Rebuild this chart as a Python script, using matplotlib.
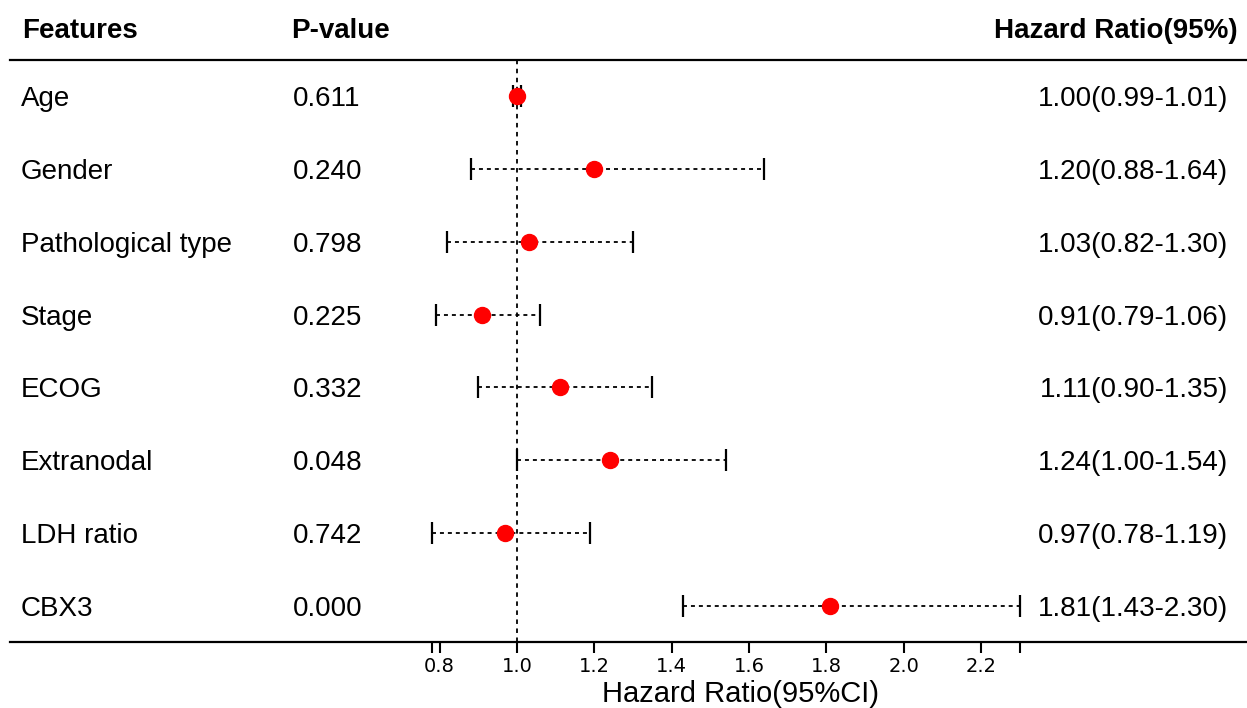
import numpy as np
import matplotlib
matplotlib.use("Agg")
import matplotlib.pyplot as plt
from matplotlib.transforms import blended_transform_factory

features = ["Age", "Gender", "Pathological type", "Stage", "ECOG",
            "Extranodal", "LDH ratio", "CBX3"]
p_values = ["0.611", "0.240", "0.798", "0.225", "0.332", "0.048", "0.742", "0.000"]
hr = [1.00, 1.20, 1.03, 0.91, 1.11, 1.24, 0.97, 1.81]
lower = [0.99, 0.88, 0.82, 0.79, 0.90, 1.00, 0.78, 1.43]
upper = [1.01, 1.64, 1.30, 1.06, 1.35, 1.54, 1.19, 2.30]
tick_vals = [0.78, 0.8, 1.0, 1.2, 1.4, 1.6, 1.8, 2.0, 2.2, 2.3]
tick_labels = ["", "0.8", "1.0", "1.2", "1.4", "1.6", "1.8", "2.0", "2.2", ""]

plt.rcParams['font.family'] = ['Liberation Sans', 'DejaVu Sans']

W, H = 1247, 708
fig = plt.figure(figsize=(W / 100, H / 100), dpi=100)
ax = fig.add_axes([10 / W, (H - 642) / H, 1237 / W, (642 - 60) / H])

y = np.arange(len(features))
hr = np.array(hr)
lower = np.array(lower)
upper = np.array(upper)

ax.axvline(1.0, color="black", lw=1.3, ls=(0, (2.5, 2.5)), zorder=1)
eb = ax.errorbar(hr, y, xerr=[hr - lower, upper - hr], fmt="none", ecolor="black",
                 elinewidth=1.3, capsize=8, capthick=1.6, zorder=2)
eb[2][0].set_linestyle((0, (2.2, 2.2)))
ax.plot(hr, y, "o", color="red", markersize=11.5, zorder=3)

ax.set_xlim(1 - 507 / 386.7, 1 + 730 / 386.7)
ax.set_ylim(7.494, -0.494)
ax.set_yticks([])
for s in ["left", "right"]:
    ax.spines[s].set_visible(False)
ax.spines["top"].set_linewidth(1.6)
ax.spines["bottom"].set_linewidth(1.6)

ax.set_xticks(tick_vals)
ax.set_xticklabels(tick_labels, fontfamily="DejaVu Sans", fontsize=14)
ax.tick_params(axis="x", direction="out", length=8, width=1.5, pad=3)

# table text
tr = blended_transform_factory(fig.transFigure, ax.transData)
for i in range(len(features)):
    ax.text(21 / W, i, features[i], transform=tr, fontsize=20, va="center_baseline", ha="left")
    ax.text(293 / W, i, p_values[i], transform=tr, fontsize=20, va="center_baseline", ha="left")
    txt = f"{hr[i]:.2f}({lower[i]:.2f}-{upper[i]:.2f})"
    ax.text(1228 / W, i, txt, transform=tr, fontsize=20, va="center_baseline", ha="right")

fig.text(22 / W, 1 - 28 / H, "Features", fontsize=20, fontweight="bold", va="center_baseline", ha="left")
fig.text(291 / W, 1 - 28 / H, "P-value", fontsize=20, fontweight="bold", va="center_baseline", ha="left")
fig.text(1238 / W, 1 - 28 / H, "Hazard Ratio(95%)", fontsize=20, fontweight="bold",
         va="center_baseline", ha="right")

fig.text(740 / W, 1 - 691 / H, "Hazard Ratio(95%CI)", fontsize=21, va="center_baseline", ha="center")

fig.savefig("out.png", dpi=100)
